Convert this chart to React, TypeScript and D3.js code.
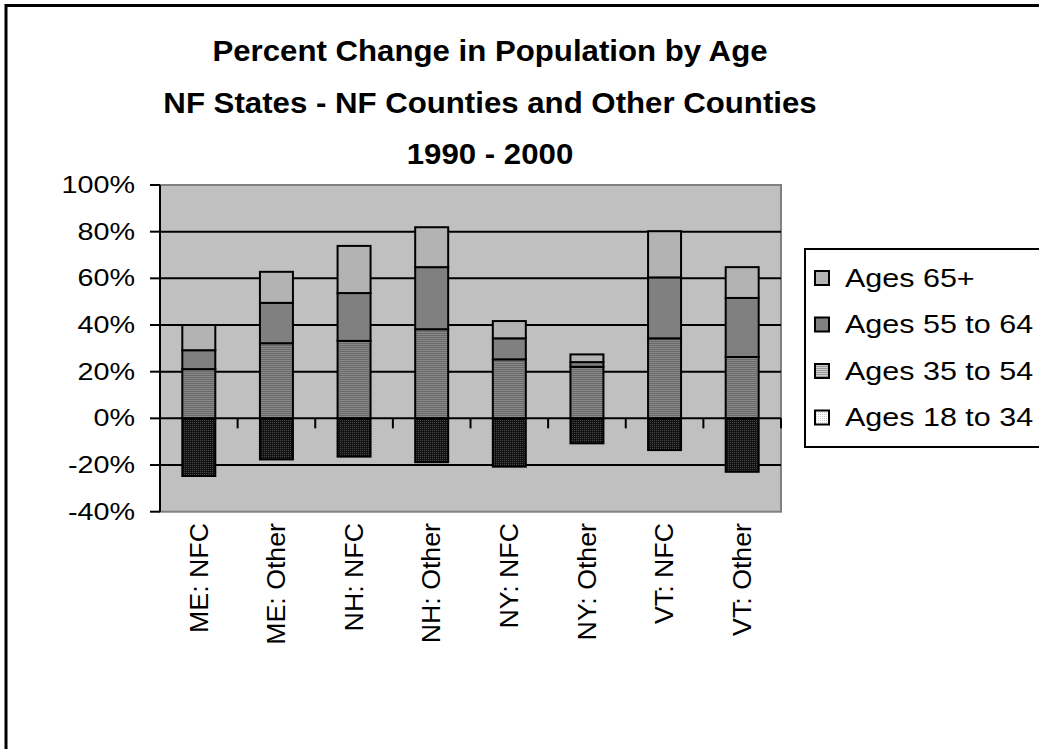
import React from "react";
import * as d3 from "d3";

// County groups along the x axis
const categories = [
  "ME: NFC",
  "ME: Other",
  "NH: NFC",
  "NH: Other",
  "NY: NFC",
  "NY: Other",
  "VT: NFC",
  "VT: Other",
];

// Percent change 1990-2000 by age group
const ages18to34 = [-24.7, -17.6, -16.4, -18.8, -20.7, -10.7, -13.6, -22.9];
const ages35to54 = [21.1, 32.2, 33.2, 38.2, 25.3, 22.1, 34.3, 26.3];
const ages55to64 = [8.1, 17.3, 20.5, 26.6, 9.0, 2.0, 26.1, 25.3];
const ages65plus = [10.8, 13.3, 20.2, 17.1, 7.4, 3.3, 19.8, 13.2];

const seriesNames = ["Ages 65+", "Ages 55 to 64", "Ages 35 to 54", "Ages 18 to 34"];
const yTicks = [100, 80, 60, 40, 20, 0, -20, -40];
const titleLines = [
  "Percent Change in Population by Age",
  "NF States - NF Counties and Other Counties",
  "1990 - 2000",
];

const FONT = "Arial, 'Liberation Sans', sans-serif";

export default function App() {
  const W = 1039;
  const H = 749;
  const plot = { left: 160, right: 781, top: 185, bottom: 511.7 };

  const x = d3
    .scaleBand<string>()
    .domain(categories)
    .range([plot.left, plot.right])
    .paddingInner(0.575)
    .paddingOuter(0.2875);
  const y = d3.scaleLinear().domain([-40, 100]).range([plot.bottom, plot.top]);
  const step = x.step();

  const fills = {
    a65: "#b3b3b3",
    a55: "#808080",
    a35: "url(#stripeDark)",
    a18: "url(#dotDark)",
  };

  // Stack the positive series upward from zero; the 18-34 series hangs below
  const segments: { cat: string; y0: number; y1: number; fill: string }[] = [];
  categories.forEach((c, i) => {
    segments.push({ cat: c, y0: ages18to34[i], y1: 0, fill: fills.a18 });
    const s1 = ages35to54[i];
    const s2 = s1 + ages55to64[i];
    const s3 = s2 + ages65plus[i];
    segments.push({ cat: c, y0: 0, y1: s1, fill: fills.a35 });
    segments.push({ cat: c, y0: s1, y1: s2, fill: fills.a55 });
    segments.push({ cat: c, y0: s2, y1: s3, fill: fills.a65 });
  });

  const legendFills = ["#b3b3b3", "#808080", "url(#stripeLight)", "url(#dotLight)"];
  const legendRowY = [278, 324.5, 371, 417.5];

  return (
    <svg
      width={W}
      height={H}
      style={{ position: "absolute", left: 0, top: 0, display: "block", background: "#fff" }}
      fontFamily={FONT}
    >
      <defs>
        <pattern id="stripeDark" width="4" height="2" patternUnits="userSpaceOnUse">
          <rect width="4" height="2" fill="#6a6a6a" />
          <rect width="4" height="1" fill="#888" />
        </pattern>
        <pattern id="dotDark" width="2" height="2" patternUnits="userSpaceOnUse">
          <rect width="2" height="2" fill="#111" />
          <rect width="1" height="1" fill="#4a4a4a" />
        </pattern>
        <pattern id="stripeLight" width="4" height="2" patternUnits="userSpaceOnUse">
          <rect width="4" height="2" fill="#cfcfcf" />
          <rect width="4" height="1" fill="#999" />
        </pattern>
        <pattern id="dotLight" width="2" height="2" patternUnits="userSpaceOnUse">
          <rect width="2" height="2" fill="#fff" />
          <rect width="1" height="1" fill="#ccc" />
        </pattern>
      </defs>

      {/* chart frame */}
      <rect x={6} y={5.5} width={1100} height={800} fill="#fff" stroke="#000" strokeWidth={3} />

      {/* title */}
      <g fontWeight="bold" fontSize={30} textAnchor="middle" fill="#000">
        {titleLines.map((t, i) => (
          <text key={t} transform={`translate(490,${61 + i * 51.5}) scale(1.04,1)`}>
            {t}
          </text>
        ))}
      </g>

      {/* plot area */}
      <rect
        x={plot.left}
        y={plot.top}
        width={plot.right - plot.left}
        height={plot.bottom - plot.top}
        fill="#c0c0c0"
        stroke="#808080"
        strokeWidth={2}
      />

      {/* gridlines */}
      {yTicks
        .filter((v) => v !== 100 && v !== -40 && v !== 0)
        .map((v) => (
          <line key={v} x1={plot.left} x2={plot.right} y1={y(v)} y2={y(v)} stroke="#000" strokeWidth={2} />
        ))}

      {/* bars */}
      {segments.map((s, i) => {
        const top = y(Math.max(s.y0, s.y1));
        const bot = y(Math.min(s.y0, s.y1));
        return (
          <rect
            key={i}
            x={x(s.cat)!}
            y={top}
            width={x.bandwidth()}
            height={bot - top}
            fill={s.fill}
            stroke="#000"
            strokeWidth={2}
          />
        );
      })}

      {/* x axis at zero */}
      <line x1={plot.left} x2={plot.right} y1={y(0)} y2={y(0)} stroke="#000" strokeWidth={2} />
      {d3.range(1, categories.length + 1).map((i) => (
        <line
          key={i}
          x1={plot.left + i * step}
          x2={plot.left + i * step}
          y1={y(0)}
          y2={y(0) + 10}
          stroke="#000"
          strokeWidth={2}
        />
      ))}

      {/* y axis */}
      <line x1={plot.left} x2={plot.left} y1={plot.top} y2={plot.bottom} stroke="#000" strokeWidth={2} />
      {yTicks.map((v) => (
        <g key={v}>
          <line x1={plot.left - 10} x2={plot.left} y1={y(v)} y2={y(v)} stroke="#000" strokeWidth={2} />
          <text
            transform={`translate(135,${y(v)}) scale(1.25,1)`}
            dy="0.35em"
            textAnchor="end"
            fontSize={23}
            fill="#000"
          >
            {v}%
          </text>
        </g>
      ))}

      {/* category labels */}
      {categories.map((c) => {
        const cx = x(c)! + x.bandwidth() / 2;
        return (
          <text
            key={c}
            transform={`translate(${cx},523) rotate(-90) scale(1.07,1)`}
            dy="0.35em"
            textAnchor="end"
            fontSize={25}
            fill="#000"
          >
            {c}
          </text>
        );
      })}

      {/* legend */}
      <rect x={805} y={249} width={300} height={198} fill="#fff" stroke="#000" strokeWidth={2} />
      {seriesNames.map((n, i) => (
        <g key={n}>
          <rect
            x={815}
            y={legendRowY[i] - 7}
            width={14}
            height={14}
            fill={legendFills[i]}
            stroke="#000"
            strokeWidth={2}
          />
          <text
            transform={`translate(845,${legendRowY[i]}) scale(1.22,1)`}
            dy="0.35em"
            fontSize={25}
            fill="#000"
          >
            {n}
          </text>
        </g>
      ))}
    </svg>
  );
}
